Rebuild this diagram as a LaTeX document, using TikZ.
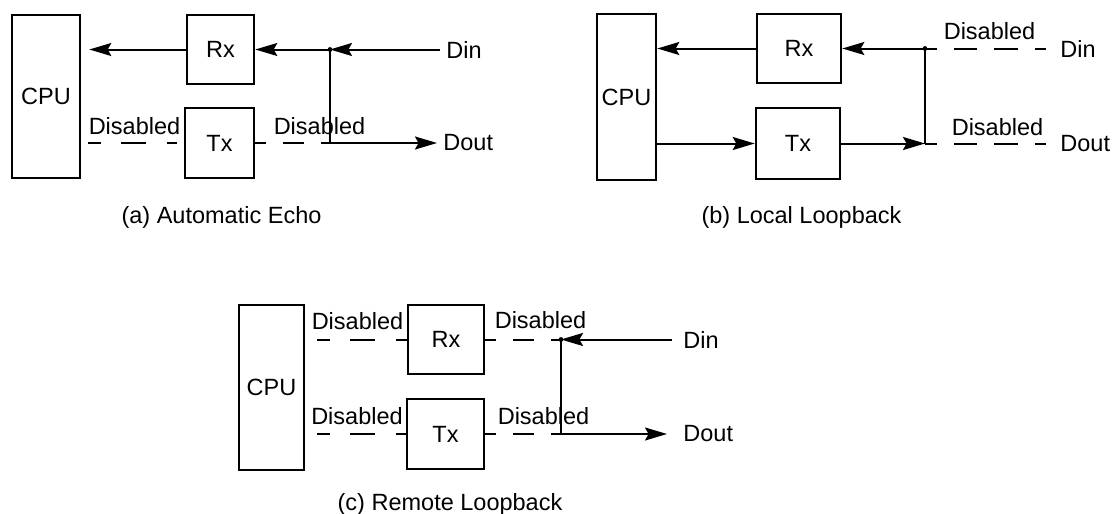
\documentclass[tikz,border=0pt]{standalone}
\usepackage{fontspec}
\setmainfont{Liberation Sans}
\usetikzlibrary{arrows.meta, positioning, calc}
\newcommand{\lbl}{\fontsize{11.75}{14}\selectfont}
\tikzset{
  blk/.style={draw, line width=1.3pt, inner sep=0pt},
  wire/.style={line width=1pt},
  feed/.style={wire, -{Stealth[length=11pt, width=6.5pt, inset=1.8pt]}},
  offlong/.style={wire, dash pattern=on 12.5pt off 10.25pt, dash phase=6.25pt},
  offshort/.style={wire, dash pattern=on 10.5pt off 8.5pt, dash phase=5.25pt},
  offrun/.style={wire, dash pattern=on 11.75pt off 8.5pt, dash phase=5.875pt},
  tag/.style={inner sep=3pt},
}

\begin{document}
\begin{tikzpicture}[x=0.5pt, y=-0.5pt, every node/.style={font=\lbl}]
  \useasboundingbox (0,0) rectangle (1114,514);

  % ── (a) Automatic Echo ──────────────────────────────────────────────────
  \node[blk, minimum width=34pt, minimum height=81.5pt] (cpuA) at (46,96.5) {CPU};
  \node[blk, minimum width=33.5pt, minimum height=34.5pt] (rxA) at (220.5,49.5) {Rx};
  \node[blk, minimum width=34.5pt, minimum height=35pt] (txA) at (219.5,143) {Tx};
  \coordinate (jAin)  at (330,49.5);
  \coordinate (jAout) at (330,143);
  \node[tag, anchor=west] (dinA)  at (440,49.5) {Din};
  \node[tag, anchor=west] (doutA) at (437,143) {Dout};
  \draw[feed] (rxA.west) -- ([xshift=4pt]rxA.west -| cpuA.east);
  \draw[feed] (jAin) -- (rxA.east);
  \draw[feed] (dinA.west) -- (jAin);
  \draw[wire] (jAin) -- (jAout);
  \draw[feed] (jAout) -- (doutA.west);
  \draw[offlong, shorten <=3.5pt, shorten >=3.5pt] (cpuA.east |- txA.west) -- (txA.west);
  \draw[offshort] (txA.east) -- (jAout);
  \fill (jAin) circle (1.2pt);
  \node (offA1) at (134.5,126.5) {Disabled};
  \node (offA2) at (319.5,126.5) {Disabled};
  \node (capA) at (221.5,217) {(a) Automatic Echo};

  % ── (b) Local Loopback ──────────────────────────────────────────────────
  \node[blk, minimum width=29.5pt, minimum height=83pt] (cpuB) at (626.5,97) {CPU};
  \node[blk, minimum width=42pt, minimum height=34.5pt] (rxB) at (799,48.5) {Rx};
  \node[blk, minimum width=42pt, minimum height=35.5pt] (txB) at (798,143.5) {Tx};
  \coordinate (jBin)  at (925,48.5);
  \coordinate (jBout) at (925,143.5);
  \node[tag, anchor=west] (dinB)  at (1054,48.5) {Din};
  \node[tag, anchor=west] (doutB) at (1054,143.5) {Dout};
  \draw[feed] (rxB.west) -- (rxB.west -| cpuB.east);
  \draw[feed] (cpuB.east |- txB.west) -- (txB.west);
  \draw[feed] (txB.east) -- (jBout);
  \draw[feed] (jBin) -- (rxB.east);
  \draw[wire] (jBin) -- (jBout);
  \draw[offrun, shorten >=4pt] (jBin) -- (dinB.west);
  \draw[offrun, shorten >=4pt] (jBout) -- (doutB.west);
  \fill (jBin) circle (1.2pt);
  \node (offB1) at (989.5,31) {Disabled};
  \node (offB2) at (997.5,127) {Disabled};
  \node (capB) at (801.5,217) {(b) Local Loopback};

  % ── (c) Remote Loopback ─────────────────────────────────────────────────
  \node[blk, minimum width=32.5pt, minimum height=82.5pt] (cpuC) at (271.5,387.5) {CPU};
  \node[blk, minimum width=38pt, minimum height=34.5pt] (rxC) at (446,339.5) {Rx};
  \node[blk, minimum width=38.5pt, minimum height=35pt] (txC) at (445.5,434) {Tx};
  \coordinate (jCin)  at (561,339.5);
  \coordinate (jCout) at (561,434);
  \node[tag, anchor=west] (dinC)  at (677,339.5) {Din};
  \node[tag, anchor=west] (doutC) at (677,434) {Dout};
  \draw[offlong, shorten <=6pt] (cpuC.east |- rxC.west) -- (rxC.west);
  \draw[offlong, shorten <=6pt] (cpuC.east |- txC.west) -- (txC.west);
  \draw[offshort] (rxC.east) -- (jCin);
  \draw[offshort] (txC.east) -- (jCout);
  \draw[feed, shorten <=2.5pt] (dinC.west) -- (jCin);
  \draw[wire] (jCin) -- (jCout);
  \draw[feed, shorten >=5pt] (jCout) -- (doutC.west);
  \fill (jCin) circle (1.2pt);
  \node (offC1) at (357.5,321.5) {Disabled};
  \node (offC2) at (357,416.5) {Disabled};
  \node (offC3) at (540.5,320) {Disabled};
  \node (offC4) at (543.5,416.5) {Disabled};
  \node (capC) at (450,504) {(c) Remote Loopback};
\end{tikzpicture}
\end{document}
